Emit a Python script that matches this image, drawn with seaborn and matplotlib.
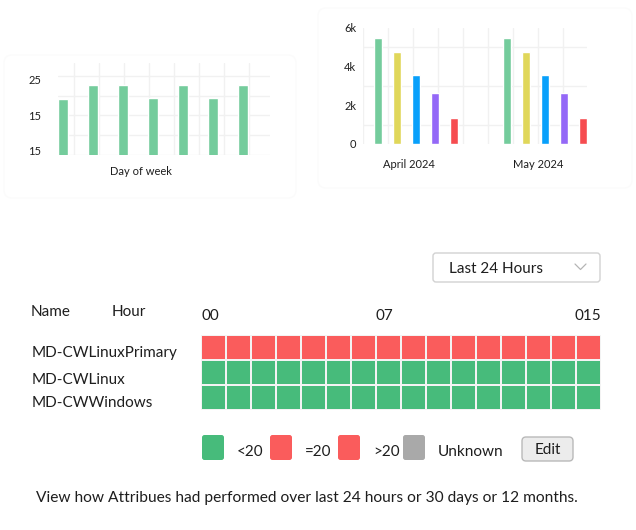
import numpy as np
import pandas as pd
import seaborn as sns
import matplotlib.pyplot as plt
from matplotlib.colors import ListedColormap
from matplotlib.patches import FancyBboxPatch
from matplotlib.transforms import ScaledTranslation

# ---- data ----
days = ["Mon", "Tue", "Wed", "Thu", "Fri", "Sat", "Sun"]
day_values = [19.7, 23.6, 23.6, 20.0, 23.6, 20.0, 23.6]
day_tick_pos = [5.3, 15.0, 25.0]
day_tick_labels = ["15", "15", "25"]

months = ["April 2024", "May 2024"]
series = ["S1", "S2", "S3", "S4", "S5"]
april_values = [5500, 4750, 3550, 2640, 1360]
may_values = [5500, 4750, 3550, 2640, 1360]
series_colors = ["#74cc9c", "#e0d75a", "#08a0fb", "#9468f7", "#f64c50"]

hosts = ["MD-CWLinuxPrimary", "MD-CWLinux", "MD-CWWindows"]
hour_labels = ["00", "07", "015"]
hour_label_pos = [0, 7, 16]
status_names = ["<20", "=20", ">20", "Unknown"]
status_colors = ["#47bb7b", "#fa5c5c", "#fa5c5c", "#a9a9a9"]
primary_status = [">20", ">20", ">20", ">20", ">20", ">20", ">20", ">20",
                  ">20", ">20", ">20", ">20", ">20", ">20", ">20", ">20"]
linux_status = ["<20", "<20", "<20", "<20", "<20", "<20", "<20", "<20",
                "<20", "<20", "<20", "<20", "<20", "<20", "<20", "<20"]
windows_status = ["<20", "<20", "<20", "<20", "<20", "<20", "<20", "<20",
                  "<20", "<20", "<20", "<20", "<20", "<20", "<20", "<20"]

sns.set_theme(style="white")
plt.rcParams["font.family"] = ["Lato", "DejaVu Sans"]
TXT = "#1e1e1e"
GRID = "#f1f1f1"

W, H = 636, 530
fig = plt.figure(figsize=(W / 100, H / 100), dpi=100)
fig.patch.set_facecolor("white")


def box(x0, y0, x1, y1):
    # pixel box -> figure fraction rect
    return [x0 / W, 1 - y1 / H, (x1 - x0) / W, (y1 - y0) / H]


# overlay in pixel coordinates for the ui bits
ui = fig.add_axes([0, 0, 1, 1], zorder=0)
ui.set_xlim(0, W)
ui.set_ylim(H, 0)
ui.axis("off")

# barely visible cards behind the small charts
for x0, y0, x1, y1 in [(4, 55, 296, 198), (318, 8, 632, 188)]:
    ui.add_patch(FancyBboxPatch((x0, y0), x1 - x0, y1 - y0,
                                boxstyle="round,pad=0,rounding_size=8",
                                fc="none", ec="#fbfbfb", lw=1))

# ---- left bar chart ----
ax1 = fig.add_axes(box(58, 63, 270, 155), zorder=1)
ax1.set_facecolor("none")
sns.barplot(x=days, y=day_values, color="#74cc9c", width=0.33,
            saturation=1, ax=ax1)
ax1.set_xlim(-0.17, 6.9)
ax1.set_ylim(4.17, 29.7)
ax1.set_yticks(day_tick_pos)
ax1.set_yticklabels(day_tick_labels)
ax1.set_yticks(np.linspace(4.17, 26.1, 5), minor=True)
ax1.set_xticks(np.arange(0.37, 6.9, 0.833), minor=True)
ax1.set_xticks([])
ax1.grid(True, which="minor", color=GRID, lw=1)
ax1.set_axisbelow(True)
ax1.tick_params(axis="y", length=0, pad=12, labelsize=8, colors=TXT)
ax1.tick_params(which="minor", length=0)
ax1.set_xlabel("Day of week", fontsize=8, color=TXT)
ax1.xaxis.set_label_coords(0.39, -0.12)
ax1.set_ylabel("")
sns.despine(ax=ax1, left=True, bottom=True)

# ---- right grouped bar chart ----
df = pd.DataFrame({
    "month": [months[0]] * len(series) + [months[1]] * len(series),
    "series": series + series,
    "value": april_values + may_values,
})
ax2 = fig.add_axes(box(363, 28, 587, 144), zorder=1)
ax2.set_facecolor("none")
sns.barplot(data=df, x="month", y="value", hue="series",
            palette=series_colors, width=0.736, gap=0.59, saturation=1,
            legend=False, ax=ax2)
ax2.set_xlim(-0.41, 1.326)
ax2.set_ylim(0, 6000)
ax2.set_yticks([0, 2000, 4000, 6000])
ax2.set_yticklabels(["0", "2k", "4k", "6k"])
ax2.set_yticks(np.arange(0, 6001, 1000), minor=True)
ax2.set_xticks(np.arange(-0.41, 1.33, 0.194), minor=True)
ax2.grid(True, which="minor", color=GRID, lw=1)
ax2.set_axisbelow(True)
ax2.tick_params(axis="y", length=0, pad=5, labelsize=8, colors=TXT)
ax2.tick_params(axis="x", length=0, pad=11, labelsize=8, colors=TXT)
ax2.tick_params(which="minor", length=0)
for lab in ax2.get_xticklabels():
    lab.set_transform(lab.get_transform() +
                      ScaledTranslation(-0.07, 0, fig.dpi_scale_trans))
ax2.set_xlabel("")
ax2.set_ylabel("")
sns.despine(ax=ax2, left=True, bottom=True)

# ---- status heatmap ----
rows = [primary_status, linux_status, windows_status]
codes = np.array([[status_names.index(s) for s in r] for r in rows])
hm = fig.add_axes(box(201, 335, 601, 410), zorder=1)
sns.heatmap(codes, ax=hm, cmap=ListedColormap(status_colors),
            vmin=-0.5, vmax=3.5, cbar=False, linewidths=1.1,
            linecolor="#f3f3f3", xticklabels=False, yticklabels=hosts)
hm.xaxis.tick_top()
hm.set_xticks(hour_label_pos)
hm.set_xticklabels(hour_labels)
for lab, ha in zip(hm.get_xticklabels(), ["left", "left", "right"]):
    lab.set_ha(ha)
hm.tick_params(axis="x", length=0, pad=9, labelsize=11, colors=TXT)
hm.tick_params(axis="y", length=0, pad=122, labelsize=11, colors=TXT,
               rotation=0)
for lab, dy in zip(hm.get_yticklabels(), [0.05, 0.075, 0.055]):
    lab.set_ha("left")
    lab.set_transform(lab.get_transform() +
                      ScaledTranslation(0, -dy, fig.dpi_scale_trans))

# header texts
ui.text(31, 312, "Name", fontsize=11, color=TXT, va="center")
ui.text(112, 312, "Hour", fontsize=11, color=TXT, va="center")

# dropdown
ui.add_patch(FancyBboxPatch((433, 253), 167, 29,
                            boxstyle="round,pad=0,rounding_size=3",
                            fc="white", ec="#d2d2d2", lw=1))
ui.text(449, 269, "Last 24 Hours", fontsize=11, color=TXT, va="center")
ui.plot([575, 580.5, 586], [264, 269.5, 264], color="#b5b5b5", lw=0.9)

# legend squares
for x, name, color in zip([202, 270, 338, 403], status_names, status_colors):
    ui.add_patch(FancyBboxPatch((x, 435), 22, 25,
                                boxstyle="round,pad=0,rounding_size=2.5",
                                fc=color, ec="none"))
    ui.text(x + 35, 452, name, fontsize=11, color=TXT, va="center")

# edit button
ui.add_patch(FancyBboxPatch((522, 437), 51, 24,
                            boxstyle="round,pad=0,rounding_size=4",
                            fc="#ececec", ec="#b9b9b9", lw=1))
ui.text(547.5, 450, "Edit", fontsize=11, color=TXT, ha="center", va="center")

ui.text(36, 498, "View how Attribues had performed over last 24 hours "
        "or 30 days or 12 months.", fontsize=11.2, color=TXT, va="center")

fig.savefig("out.png", dpi=100, facecolor="white")
